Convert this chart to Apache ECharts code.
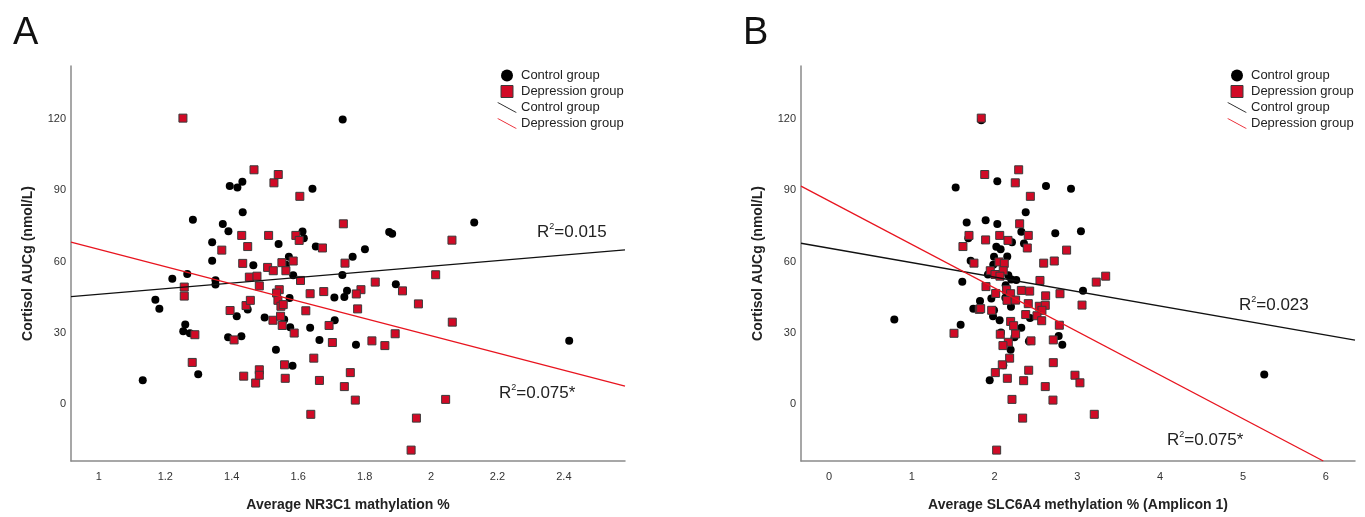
<!DOCTYPE html>
<html><head><meta charset="utf-8">
<script src="https://cdn.jsdelivr.net/npm/echarts@6/dist/echarts.min.js"></script>
<style>html,body{margin:0;padding:0;background:#fff}#c{width:1365px;height:517px}</style>
</head><body><div id="c"></div>
<script>
// ---- Panel A: NR3C1 ----
const controlA = [[1.394,91.9],[1.417,91.2],[1.432,93.7],[1.433,80.8],[1.283,77.6],[1.373,75.8],[1.39,72.8],[1.341,68.1],[1.341,60.3],[1.465,58.4],[1.734,119.9],[1.643,90.7],[1.874,72.4],[1.883,71.7],[1.613,72.7],[1.617,69.8],[1.541,67.4],[1.653,66.3],[1.801,65.2],[1.764,62.0],[1.572,62.0],[1.563,58.6],[2.13,76.5],[1.221,52.7],[1.266,54.7],[1.351,52.1],[1.351,50.3],[1.17,43.9],[1.182,40.1],[1.415,36.9],[1.448,39.7],[1.26,33.4],[1.254,30.6],[1.274,29.7],[1.389,28.0],[1.429,28.4],[1.299,12.4],[1.132,9.9],[1.585,54.2],[1.733,54.3],[1.894,50.4],[1.747,47.6],[1.739,45.0],[1.709,44.8],[1.574,44.6],[1.499,36.4],[1.558,35.5],[1.576,32.2],[1.636,32.0],[1.71,35.2],[1.664,26.9],[1.774,24.9],[1.533,22.7],[1.583,16.0],[2.416,26.5]];
const depressionA = [[1.253,120.5],[1.467,98.7],[1.43,71.0],[1.448,66.3],[1.37,64.8],[1.433,59.2],[1.54,96.7],[1.527,93.2],[1.605,87.5],[1.736,75.9],[1.511,71.0],[1.593,71.0],[1.603,68.9],[1.673,65.7],[1.585,60.2],[1.551,59.5],[1.741,59.3],[1.508,57.5],[2.063,69.0],[1.257,49.2],[1.257,45.4],[1.453,53.4],[1.476,53.8],[1.483,49.7],[1.395,39.3],[1.443,41.4],[1.456,43.6],[1.289,29.1],[1.407,26.9],[1.281,17.4],[1.436,11.6],[1.472,8.7],[1.483,14.3],[1.483,12.0],[1.525,56.1],[1.563,56.1],[2.014,54.4],[1.607,52.0],[1.832,51.3],[1.914,47.6],[1.543,48.1],[1.535,46.7],[1.636,46.4],[1.677,47.3],[1.789,48.1],[1.775,46.3],[1.962,42.1],[1.539,43.6],[1.548,41.1],[1.555,41.8],[1.779,40.0],[1.623,39.2],[1.524,35.2],[1.547,36.9],[1.552,33.0],[1.588,29.8],[1.693,33.0],[1.703,25.8],[1.822,26.5],[1.861,24.5],[1.892,29.5],[1.647,19.2],[1.559,16.4],[1.561,10.7],[1.664,9.8],[1.757,13.1],[1.739,7.2],[1.772,1.5],[1.638,-4.5],[1.956,-6.1],[2.044,1.8],[1.94,-19.6],[2.064,34.4]];
const fitControlA = [[0.916,45.2],[2.584,64.9]];
const fitDepressionA = [[0.916,68.2],[2.584,7.4]];
const xTicksA = [1,1.2,1.4,1.6,1.8,2,2.2,2.4];
const xRangeA = [0.916,2.584];

// ---- Panel B: SLC6A4 ----
const controlB = [[1.839,119.6],[1.53,91.2],[1.663,76.5],[1.683,69.8],[1.711,60.3],[2.033,93.9],[2.621,91.9],[2.923,90.7],[2.376,80.8],[1.892,77.4],[2.033,75.8],[2.323,72.6],[2.733,71.9],[3.043,72.8],[2.21,68.1],[2.355,67.6],[2.021,66.2],[2.073,65.2],[2.153,62.1],[1.993,62.0],[1.61,51.4],[1.743,40.1],[1.824,43.3],[0.789,35.5],[1.59,33.3],[1.984,58.6],[1.92,54.5],[2.166,54.2],[2.262,52.2],[2.202,52.4],[3.068,47.6],[1.961,44.4],[2.142,47.9],[1.981,36.9],[2.061,35.2],[1.993,39.4],[2.198,40.9],[2.24,28.0],[2.323,32.0],[2.415,26.3],[2.774,28.6],[2.818,24.9],[2.194,22.7],[2.105,16.2],[1.941,9.9],[2.134,50.0],[2.13,44.7],[2.428,36.1],[2.077,30.0],[5.257,12.3]];
const depressionB = [[1.839,120.5],[1.691,71.0],[1.618,66.3],[1.751,59.3],[2.291,98.7],[1.881,96.7],[2.25,93.2],[2.432,87.5],[2.303,75.9],[2.407,71.0],[1.892,69.1],[2.062,71.0],[2.162,68.9],[2.395,65.7],[2.87,64.8],[2.053,59.8],[2.117,59.2],[2.593,59.3],[2.721,60.2],[1.815,39.8],[1.51,29.7],[1.948,56.1],[2.105,56.1],[2.005,54.5],[2.065,53.8],[2.548,52.0],[3.228,51.3],[3.342,53.8],[1.896,49.4],[2.013,46.5],[2.146,48.1],[2.194,46.4],[2.15,43.6],[2.254,43.7],[2.323,47.8],[2.424,47.5],[2.617,45.5],[2.79,46.4],[2.407,42.2],[2.54,41.1],[2.612,41.5],[2.572,39.4],[2.512,37.1],[2.376,37.6],[2.569,35.0],[2.782,33.1],[3.056,41.6],[2.194,34.7],[2.23,32.9],[2.254,29.4],[2.069,29.3],[2.166,25.9],[2.101,24.5],[2.44,26.5],[2.709,26.9],[2.182,19.2],[2.093,16.4],[2.009,13.1],[2.154,10.7],[2.412,14.1],[2.351,9.7],[2.709,17.3],[2.971,12.0],[3.031,8.8],[2.612,7.2],[2.21,1.8],[2.705,1.5],[3.204,-4.5],[2.339,-6.1],[2.025,-19.6],[1.832,40.1],[1.965,39.4]];
const fitControlB = [[-0.338,67.7],[6.353,26.8]];
const fitDepressionB = [[-0.338,91.8],[5.97,-24.2]];
const xTicksB = [0,1,2,3,4,5,6];
const xRangeB = [-0.338,6.353];

const yTicks = [0,30,60,90,120];
const yRange = [-24.2,142.5];
const r2Labels = ['0.015','0.075*','0.023','0.075*'];

const FONT = '"Liberation Sans", Arial, sans-serif';
const RED = '#d10a26';
const LINE_RED = '#e8141f';
const AXIS_COLOR = '#8a8a8a';

function xAxis(idx, range, ticks, name){
  return {type:'value', gridIndex:idx, min:range[0], max:range[1],
    name:name, nameLocation:'middle', nameGap:37,
    nameTextStyle:{fontFamily:FONT, fontSize:14, fontWeight:'bold', color:'#222'},
    axisLine:{show:true, onZero:false, lineStyle:{color:AXIS_COLOR, width:1.5}},
    axisTick:{show:false}, splitLine:{show:false},
    axisLabel:{customValues:ticks, fontFamily:FONT, fontSize:11, color:'#333', margin:10}};
}
function yAxis(idx){
  return {type:'value', gridIndex:idx, min:yRange[0], max:yRange[1],
    name:'Cortisol AUCg (nmol/L)', nameLocation:'middle', nameGap:36,
    nameTextStyle:{fontFamily:FONT, fontSize:14, fontWeight:'bold', color:'#222'},
    axisLine:{show:true, onZero:false, lineStyle:{color:AXIS_COLOR, width:1.5}},
    axisTick:{show:false}, splitLine:{show:false},
    axisLabel:{customValues:yTicks, fontFamily:FONT, fontSize:11, color:'#333', margin:5}};
}
function scatterSeries(idx, name, data, isRect){
  return {type:'scatter', name:name, xAxisIndex:idx, yAxisIndex:idx, data:data,
    symbol: isRect ? 'rect' : 'circle', symbolSize: 8,
    itemStyle: isRect ? {color:RED, borderColor:'#3a3a3a', borderWidth:1, opacity:1} : {color:'#000', opacity:1},
    z: isRect ? 3 : 2};
}
function lineSeries(idx, name, data, color){
  return {type:'line', name:name, xAxisIndex:idx, yAxisIndex:idx, data:data,
    symbol:'none', clip:true, lineStyle:{color:color, width:1.3}, itemStyle:{color:color}, z:4};
}
const lineIcon = 'path://M0,0 L1.6,0 L20,10 L18.4,10 Z';
const squareIcon = 'path://M0,0 L12,0 L12,12 L0,12 Z';
function legend(left, sfx){
  return {left:left, top:64, orient:'vertical', itemGap:3, itemWidth:20, itemHeight:12,
    symbolKeepAspect:true,
    textStyle:{fontFamily:FONT, fontSize:13, color:'#222', padding:[0,0,0,-1]},
    formatter: n => n.replace(/ (fit|pts)[AB]$/, ''),
    selectedMode:false,
    data:[{name:'Control group pts'+sfx, icon:'circle'},
          {name:'Depression group pts'+sfx, icon:squareIcon, itemStyle:{color:RED, borderColor:'#3a3a3a', borderWidth:1}},
          {name:'Control group fit'+sfx, icon:lineIcon},
          {name:'Depression group fit'+sfx, icon:lineIcon}]};
}
function r2Text(x, y, val){
  return {type:'text', left:x, top:y, z:10,
    style:{text:'{a|R}{s|2}{a|='+val+'}', fill:'#222',
      rich:{a:{fontFamily:FONT, fontSize:17, fill:'#222', lineHeight:20},
            s:{fontFamily:FONT, fontSize:9, fill:'#222', verticalAlign:'top', lineHeight:20}}}};
}

const chart = echarts.init(document.getElementById('c'), null, {renderer:'canvas'});
chart.setOption({
  animation:false,
  backgroundColor:'#fff',
  title:[{text:'A', left:8, top:10, textStyle:{fontFamily:FONT, fontSize:38, fontWeight:'normal', color:'#111'}},
         {text:'B', left:738, top:10, textStyle:{fontFamily:FONT, fontSize:38, fontWeight:'normal', color:'#111'}}],
  grid:[{left:71, top:66, width:554, height:399, containLabel:false},
        {left:801, top:66, width:554, height:399, containLabel:false}],
  xAxis:[xAxis(0, xRangeA, xTicksA, 'Average NR3C1 mathylation %'),
         xAxis(1, xRangeB, xTicksB, 'Average SLC6A4 methylation % (Amplicon 1)')],
  yAxis:[yAxis(0), yAxis(1)],
  legend:[legend(492,'A'), legend(1222,'B')],
  series:[
    scatterSeries(0,'Control group ptsA',controlA,false),
    scatterSeries(0,'Depression group ptsA',depressionA,true),
    lineSeries(0,'Control group fitA',fitControlA,'#111'),
    lineSeries(0,'Depression group fitA',fitDepressionA,LINE_RED),
    scatterSeries(1,'Control group ptsB',controlB,false),
    scatterSeries(1,'Depression group ptsB',depressionB,true),
    lineSeries(1,'Control group fitB',fitControlB,'#111'),
    lineSeries(1,'Depression group fitB',fitDepressionB,LINE_RED)
  ],
  graphic:[r2Text(537,222,r2Labels[0]), r2Text(499,383,r2Labels[1]),
           r2Text(1239,295,r2Labels[2]), r2Text(1167,430,r2Labels[3])]
});
</script></body></html>
